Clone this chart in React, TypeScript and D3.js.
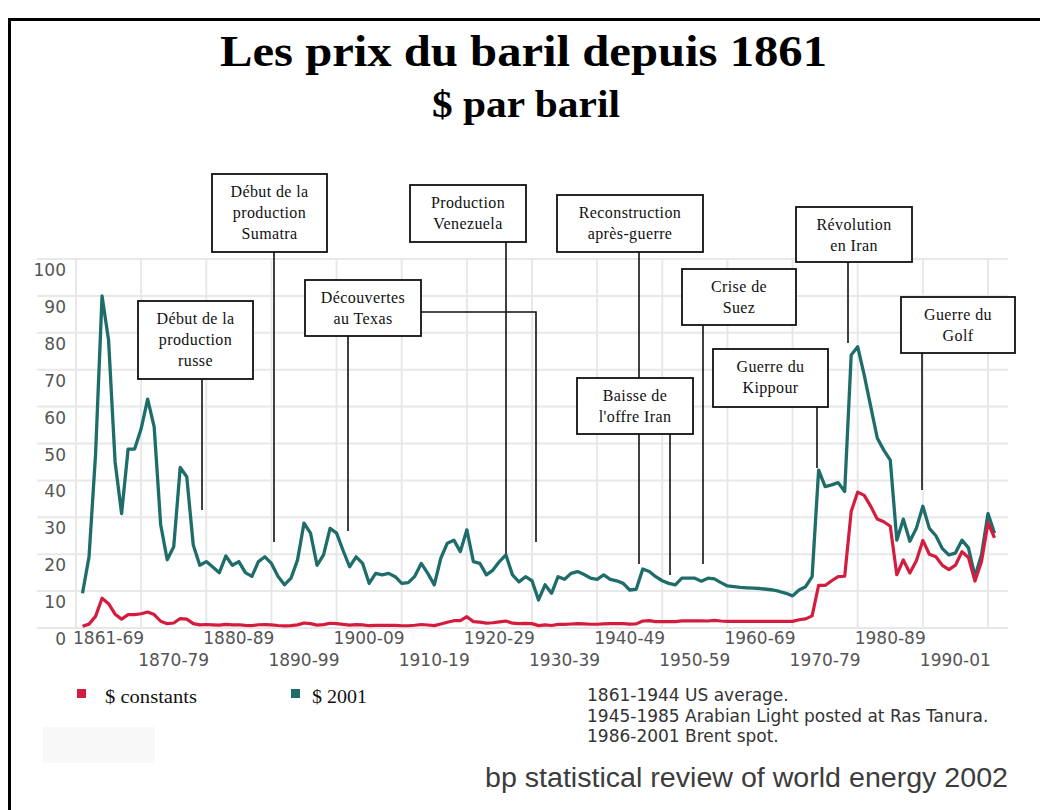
import React from 'react';
import * as d3 from 'd3';

// Years 1861-2001
const years: number[] = d3.range(1861, 2002);

// "$ constants" (money of the day) - red series
const nominal: number[] = [
  0.49, 1.05, 3.15, 8.06, 6.59, 3.74, 2.41, 3.63, 3.64, 3.86,
  4.34, 3.64, 1.83, 1.17, 1.35, 2.56, 2.42, 1.19, 0.86, 0.95,
  0.86, 0.78, 1.0, 0.84, 0.88, 0.71, 0.67, 0.88, 0.94, 0.87,
  0.67, 0.56, 0.64, 0.84, 1.36, 1.18, 0.79, 0.91, 1.29, 1.19,
  0.96, 0.8, 0.94, 0.86, 0.62, 0.73, 0.72, 0.72, 0.7, 0.61,
  0.61, 0.74, 0.95, 0.81, 0.64, 1.1, 1.56, 1.98, 2.01, 3.07,
  1.73, 1.61, 1.34, 1.43, 1.68, 1.88, 1.3, 1.17, 1.27, 1.19,
  0.65, 0.87, 0.67, 1.0, 0.97, 1.09, 1.18, 1.13, 1.02, 1.02,
  1.14, 1.19, 1.2, 1.21, 1.05, 1.12, 1.9, 1.99, 1.71, 1.71,
  1.71, 1.71, 1.93, 1.93, 1.93, 1.93, 1.9, 2.08, 1.9, 1.8,
  1.8, 1.8, 1.8, 1.8, 1.8, 1.8, 1.8, 1.8, 1.8, 1.8,
  2.24, 2.48, 3.29, 11.58, 11.53, 12.8, 13.92, 14.02, 31.61, 36.83,
  35.93, 32.97, 29.55, 28.78, 27.56, 14.43, 18.44, 14.92, 18.23, 23.73,
  20.0, 19.32, 16.97, 15.82, 17.02, 20.67, 19.09, 12.72, 17.97, 28.5, 24.44,
];

// "$ 2001" - green series
const real2001: number[] = [
  9.4, 19.3, 47, 90, 78, 45, 31, 48.5, 48.5, 54,
  62, 54.5, 28, 18.5, 22, 43.5, 41, 22.5, 17, 18,
  16.5, 15, 19.5, 17, 18, 15, 14, 18, 19.3, 17.5,
  14, 11.7, 13.5, 18.4, 28.4, 25.7, 17, 19.8, 27, 25.7,
  21, 16.6, 19.3, 17.5, 12.1, 14.8, 14.4, 14.8, 13.9, 12.1,
  12.3, 14, 17.5, 14.8, 11.7, 18.9, 23, 23.8, 20.7, 26.6,
  18, 17.5, 14.4, 15.7, 18, 19.8, 14.4, 12.5, 13.9, 12.8,
  7.6, 11.7, 9.4, 13.9, 13.2, 14.8, 15.3, 14.5, 13.5, 13.2,
  14.4, 13.2, 12.8, 12.1, 10.3, 10.5, 16, 15.3, 13.9, 12.8,
  12.1, 11.7, 13.5, 13.5, 13.5, 12.7, 13.5, 13.3, 12.3, 11.4,
  11.2, 11.0, 10.9, 10.8, 10.7, 10.5, 10.3, 9.9, 9.4, 8.7,
  10.3, 11.2, 13.9, 42.8, 38.3, 38.8, 39.4, 37, 74, 76.2,
  68.5, 60, 51.5, 48.2, 45.5, 23.8, 29.5, 23.5, 27, 33,
  27, 25, 21.5, 19.8, 20.3, 23.8, 21.7, 14, 19.8, 31, 25.7,
];

const yTicks: number[] = [0, 10, 20, 30, 40, 50, 60, 70, 80, 90, 100];
const gridYears: number[] = [1860, 1870, 1880, 1890, 1900, 1910, 1920, 1930, 1940, 1950, 1960, 1970, 1980, 1990, 2000];
const decadeLabels: string[] = [
  '1861-69', '1870-79', '1880-89', '1890-99', '1900-09', '1910-19', '1920-29',
  '1930-39', '1940-49', '1950-59', '1960-69', '1970-79', '1980-89', '1990-01',
];

const seriesNames: string[] = ['$ constants', '$ 2001'];
const notes: string[] = [
  '1861-1944 US average.',
  '1945-1985 Arabian Light posted at Ras Tanura.',
  '1986-2001 Brent spot.',
];

type Annot = { lines: string[]; box: [number, number, number, number]; leaders: [number, number][][] };
const annotations: Annot[] = [
  { lines: ['Début de la', 'production', 'russe'], box: [138, 301, 253, 379], leaders: [[[202, 379], [202, 510]]] },
  { lines: ['Début de la', 'production', 'Sumatra'], box: [212, 174, 327, 252], leaders: [[[274, 252], [274, 542]]] },
  { lines: ['Découvertes', 'au Texas'], box: [305, 280, 421, 336], leaders: [[[348, 336], [348, 531]], [[421, 312], [536, 312], [536, 542]]] },
  { lines: ['Production', 'Venezuela'], box: [410, 185, 526, 242], leaders: [[[506, 242], [506, 555]]] },
  { lines: ['Reconstruction', 'après-guerre'], box: [557, 195, 703, 252], leaders: [[[639, 252], [639, 378]], [[639, 434], [639, 564]]] },
  { lines: ['Baisse de', "l'offre Iran"], box: [577, 378, 693, 434], leaders: [[[670, 434], [670, 575]]] },
  { lines: ['Crise de', 'Suez'], box: [682, 269, 796, 325], leaders: [[[703, 325], [703, 564]]] },
  { lines: ['Guerre du', 'Kippour'], box: [713, 349, 828, 407], leaders: [[[817, 407], [817, 468]]] },
  { lines: ['Révolution', 'en Iran'], box: [796, 207, 912, 262], leaders: [[[848, 262], [848, 343]]] },
  { lines: ['Guerre du', 'Golf'], box: [901, 297, 1015, 353], leaders: [[[922, 353], [922, 490]]] },
];

const RED = '#d41c3f';
const GREEN = '#1e6d6a';
const GRID = '#e8e8e8';
const AXIS_FONT = 'DejaVu Sans, Verdana, sans-serif';
const SERIF = '"Liberation Serif", "Times New Roman", serif';

export default function App() {
  const x = d3.scaleLinear().domain([1860, 2000]).range([76, 988]);
  const y = d3.scaleLinear().domain([0, 100]).range([628, 259]);

  const line = d3
    .line<number>()
    .x((_, i) => x(years[i]))
    .y((d) => y(d));

  const leaderPath = d3.line<[number, number]>();

  return (
    <svg
      width={1040}
      height={810}
      style={{ position: 'absolute', left: 0, top: 0, background: '#fff' }}
      xmlns="http://www.w3.org/2000/svg"
    >
      <rect x={0} y={0} width={1040} height={810} fill="#fff" />
      {/* frame */}
      <line x1={9} y1={19.5} x2={1040} y2={19.5} stroke="#000" strokeWidth={3} />
      <line x1={9.5} y1={18} x2={9.5} y2={810} stroke="#000" strokeWidth={3} />

      {/* titles */}
      <text x={220} y={66} fontFamily={SERIF} fontWeight="bold" fontSize={45} textLength={607} lengthAdjust="spacingAndGlyphs">
        Les prix du baril depuis 1861
      </text>
      <text x={432} y={117} fontFamily={SERIF} fontWeight="bold" fontSize={38} textLength={188} lengthAdjust="spacingAndGlyphs">
        $ par baril
      </text>

      {/* grid */}
      <g>
        {yTicks.map((t) => (
          <line key={'h' + t} x1={37} x2={1008} y1={y(t)} y2={y(t)} stroke={GRID} strokeWidth={2} />
        ))}
        {gridYears.map((yr) => (
          <line key={'v' + yr} x1={x(yr)} x2={x(yr)} y1={y(100)} y2={y(0)} stroke={GRID} strokeWidth={2} />
        ))}
      </g>

      {/* y labels */}
      {yTicks.map((t) => (
        <text key={'yl' + t} x={66} y={y(t) + 11} textAnchor="end" dominantBaseline="central" fontFamily={AXIS_FONT} fontSize={17} fill="#555">
          {t}
        </text>
      ))}

      {/* x labels */}
      {decadeLabels.map((lab, i) => (
        <text
          key={lab}
          x={x(gridYears[i]) - 3}
          y={i % 2 === 0 ? 637.5 : 660}
          dominantBaseline="central"
          fontFamily={AXIS_FONT}
          fontSize={17}
          fill="#555"
        >
          {lab}
        </text>
      ))}

      {/* leaders */}
      {annotations.map((a, i) =>
        a.leaders.map((pts, j) => (
          <path key={'ld' + i + '-' + j} d={leaderPath(pts) || ''} fill="none" stroke="#111" strokeWidth={1.6} />
        ))
      )}

      {/* series */}
      <path d={line(real2001) || ''} fill="none" stroke={GREEN} strokeWidth={3.3} strokeLinejoin="round" />
      <path d={line(nominal) || ''} fill="none" stroke={RED} strokeWidth={3.2} strokeLinejoin="round" />

      {/* annotation boxes */}
      {annotations.map((a, i) => {
        const [x0, y0, x1, y1] = a.box;
        const cx = (x0 + x1) / 2;
        return (
          <g key={'an' + i}>
            <rect x={x0} y={y0} width={x1 - x0} height={y1 - y0} fill="#fff" stroke="#111" strokeWidth={1.8} />
            {a.lines.map((l, k) => (
              <text
                key={k}
                x={cx}
                y={y0 + 17 + k * 21}
                textAnchor="middle"
                dominantBaseline="central"
                fontFamily={SERIF}
                fontSize={16}
                letterSpacing={0.4}
                fill="#111"
              >
                {l}
              </text>
            ))}
          </g>
        );
      })}

      {/* legend */}
      <rect x={77} y={689} width={9} height={9} fill={RED} />
      <text x={105} y={696.5} dominantBaseline="central" fontFamily={SERIF} fontSize={18} textLength={92} lengthAdjust="spacingAndGlyphs" fill="#111">
        {seriesNames[0]}
      </text>
      <rect x={291} y={689} width={9} height={9} fill={GREEN} />
      <text x={312} y={696.5} dominantBaseline="central" fontFamily={SERIF} fontSize={18} textLength={55} lengthAdjust="spacingAndGlyphs" fill="#111">
        {seriesNames[1]}
      </text>

      <rect x={43} y={727} width={112} height={36} fill="#f8f8f8" />

      {/* notes */}
      {notes.map((n, i) => (
        <text key={'n' + i} x={587} y={695 + i * 20.7} dominantBaseline="central" fontFamily={AXIS_FONT} fontSize={17} fill="#333">
          {n}
        </text>
      ))}

      <text x={485} y={778} dominantBaseline="central" fontFamily='"Liberation Sans", Arial, sans-serif' fontSize={27} textLength={523} lengthAdjust="spacingAndGlyphs" fill="#3c3c3c">
        bp statistical review of world energy 2002
      </text>
    </svg>
  );
}
